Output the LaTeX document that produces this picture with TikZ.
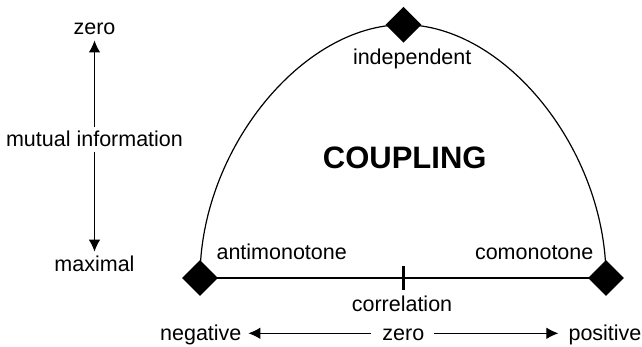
\documentclass[tikz,border=0pt]{standalone}
\usepackage{fontspec}
\setmainfont{Liberation Sans}
\usetikzlibrary{arrows.meta,shapes.geometric}
\begin{document}
\begin{tikzpicture}[x=1pt,y=-1pt,
  lbl/.style={font=\fontsize{21.5}{24}\selectfont, anchor=base, inner sep=0pt, text=black},
  rowlbl/.style={lbl, text height=14.8pt, text depth=0pt},
  biglbl/.style={font=\fontsize{31}{34}\selectfont\bfseries, anchor=base, inner sep=0pt},
  dia/.style={diamond, fill=black, minimum size=36pt, inner sep=0pt},
  arr/.style={-{Latex[length=12pt,width=11.5pt]}, line width=1pt},
  edge/.style={line width=1.2pt},
  tickmark/.style={line width=2.7pt},
]
\useasboundingbox (0,0) rectangle (642,347);
% diamonds
\node[dia] (dL) at (200,278) {};
\node[dia] (dR) at (606,278) {};
\node[dia] (dT) at (403.5,24.7) {};
% outline
\draw[edge] (dL.center) .. controls (200,150) and (302,24.7) .. (dT.center)
                        .. controls (505,24.7) and (606,150) .. (dR.center);
\draw[edge] (dL.center) -- (dR.center);
\coordinate (M) at (403.3,278);
\draw[tickmark] (M) ++(0,-12) -- ++(0,24);
% labels on the figure
\node[lbl] (ind) at (412.2,64.3) {independent};
\node[biglbl] (cp) at (404.7,168.2) {COUPLING};
\node[lbl] (anti) at (281.7,259.3) {antimonotone};
\node[lbl] (como) at (534.2,259.3) {comonotone};
\node[lbl] (corr) at (402,311.7) {correlation};
% left scale
\node[lbl] (zt) at (94.5,34.5) {zero};
\node[lbl] (mi) at (94.5,146.7) {mutual information};
\node[lbl] (mx) at (94.5,271.7) {maximal};
\draw[arr, shorten <=4.3pt, shorten >=5.5pt] (mi.north) -- (zt.south);
\draw[arr, shorten <=5.3pt, shorten >=4.3pt] (mi.south) -- (mx.north);
% bottom scale
\node[rowlbl] (neg) at (200.8,340.7) {negative};
\node[rowlbl] (zb) at (403.3,340.7) {zero};
\node[rowlbl] (pos) at (605,340.7) {positive};
\draw[arr, shorten <=11.6pt, shorten >=6.7pt] (zb.west) -- (neg.east);
\draw[arr, shorten <=10pt, shorten >=10pt] (zb.east) -- (pos.west);
\end{tikzpicture}
\end{document}
